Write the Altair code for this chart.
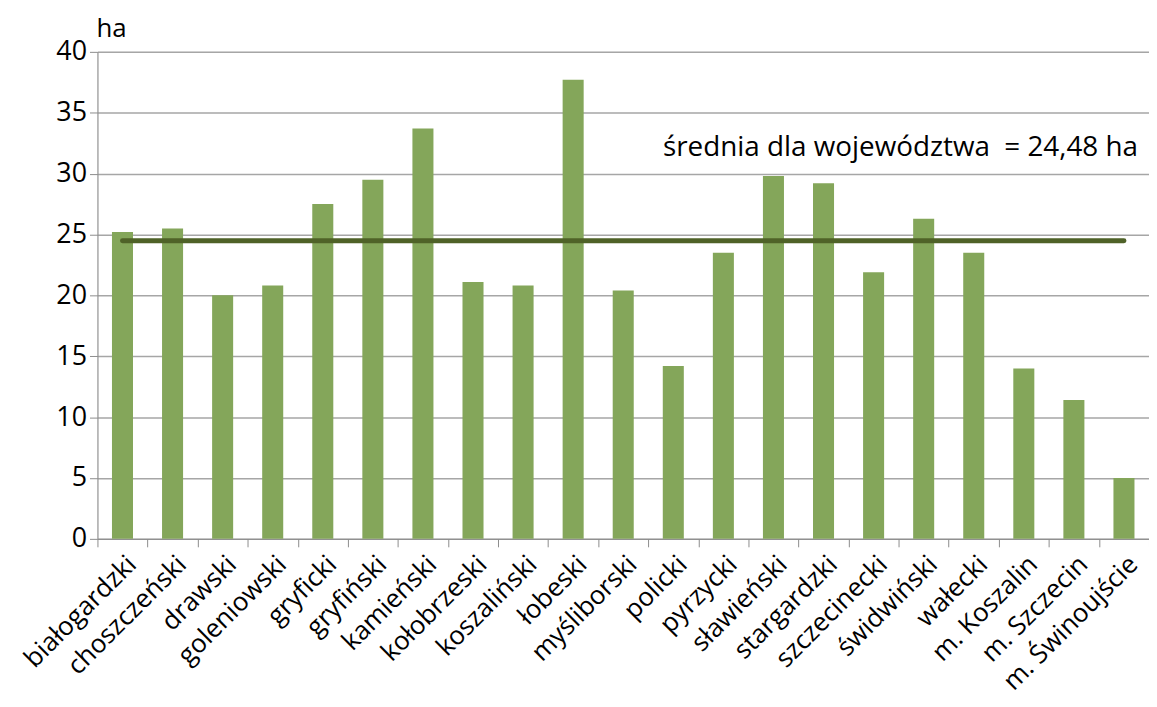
import altair as alt
import pandas as pd

categories = ["białogardzki", "choszczeński", "drawski", "goleniowski", "gryficki",
              "gryfiński", "kamieński", "kołobrzeski", "koszaliński", "łobeski",
              "myśliborski", "policki", "pyrzycki", "sławieński", "stargardzki",
              "szczecinecki", "świdwiński", "wałecki", "m. Koszalin", "m. Szczecin",
              "m. Świnoujście"]
values = [25.2, 25.5, 20.0, 20.8, 27.5, 29.5, 33.7, 21.1, 20.8, 37.7,
          20.4, 14.2, 23.5, 29.8, 29.2, 21.9, 26.3, 23.5, 14.0, 11.4, 5.0]
average = 24.48
y_ticks = [0, 5, 10, 15, 20, 25, 30, 35, 40]
unit_label = "ha"
avg_label = "średnia dla województwa\u00a0 = 24,48 ha"

df = pd.DataFrame({"powiat": categories, "wartosc": values,
                   "srednia": [average] * len(categories)})

FONT = "Open Sans"
GRID = "#a6a6a6"

x_enc = alt.X("powiat:N", sort=categories,
              scale=alt.Scale(paddingInner=0, paddingOuter=0),
              axis=alt.Axis(title=None, labelAngle=-45, labelFont=FONT, labelFontSize=26,
                            labelColor="black", tickBand="extent", tickSize=8,
                            tickColor="#8c8c8c", domainColor="#8c8c8c", labelPadding=4,
                            labelLimit=400, grid=False))

base = alt.Chart(df)

bars = base.mark_bar(color="#84a65a", width=alt.RelativeBandSize(0.42)).encode(
    x=x_enc,
    y=alt.Y("wartosc:Q", scale=alt.Scale(domain=[0, 40]),
            axis=alt.Axis(title=None, values=y_ticks, labelFont=FONT, labelFontSize=27,
                          labelColor="black", tickSize=8, tickColor="#8c8c8c",
                          domainColor="#8c8c8c", gridColor=GRID, gridWidth=1.5,
                          labelPadding=3)),
)

line = base.mark_line(color="#4f6228", strokeWidth=5, strokeCap="round").encode(
    x=alt.X("powiat:N", sort=categories),
    y=alt.Y("srednia:Q"),
)

ha_text = alt.Chart(pd.DataFrame({"t": [unit_label]})).mark_text(
    font=FONT, fontSize=26, align="left", baseline="alphabetic", color="black"
).encode(text="t:N", x=alt.value(-1), y=alt.value(-15))

avg_text = alt.Chart(pd.DataFrame({"t": [avg_label]})).mark_text(
    font=FONT, fontSize=28, align="left", baseline="alphabetic", color="black"
).encode(text="t:N", x=alt.value(569), y=alt.value(105))

chart = alt.layer(bars, line, ha_text, avg_text).properties(
    width=1058, height=490,
    padding={"left": 90, "top": 42, "right": 0, "bottom": 158},
    autosize=alt.AutoSizeParams(type="none"),
).configure_view(strokeWidth=0).configure(background="white")

chart.save("out.html", embed_options={"renderer": "svg", "actions": False})
